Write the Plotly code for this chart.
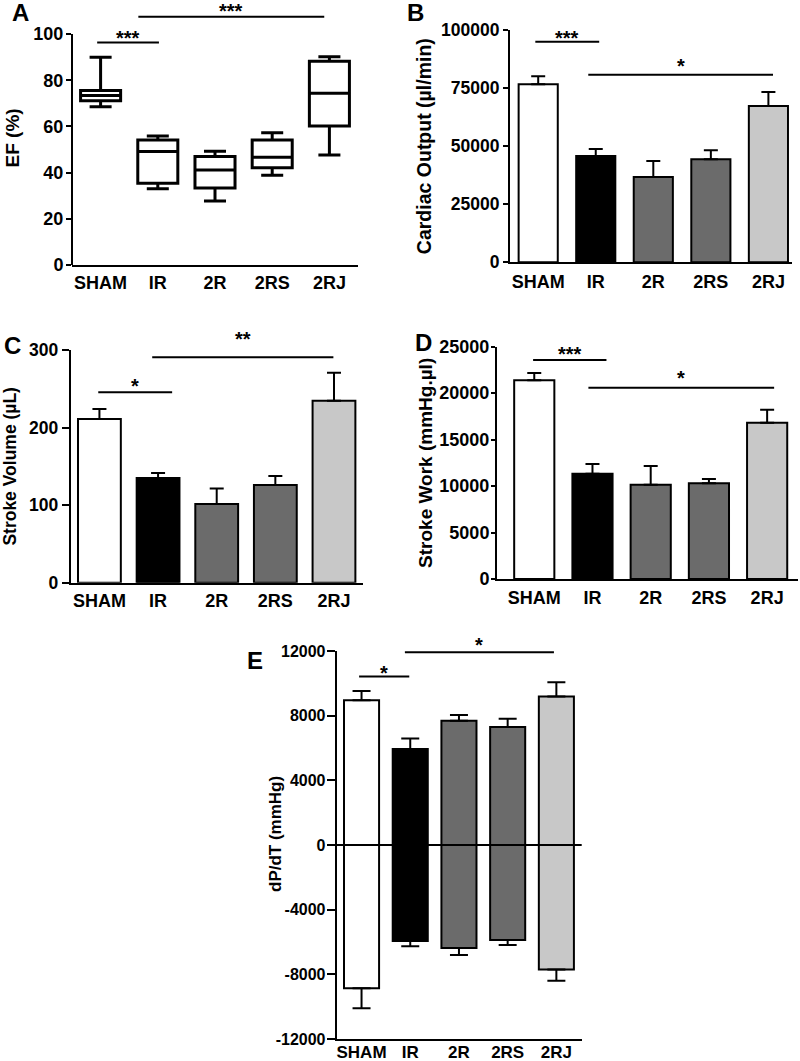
import plotly.graph_objects as go

# ---------------- data ----------------
groups = ["SHAM", "IR", "2R", "2RS", "2RJ"]
bar_colors = ["#ffffff", "#000000", "#6b6b6b", "#6b6b6b", "#c8c8c8"]

# Panel A: EF (%) box plots (min, q1, median, q3, max)
ef_min = [68.5, 33.0, 27.7, 38.8, 47.6]
ef_q1 = [71.1, 35.4, 33.3, 42.1, 60.2]
ef_med = [73.4, 49.1, 41.1, 46.6, 74.3]
ef_q3 = [75.5, 54.1, 47.0, 54.1, 88.2]
ef_max = [89.9, 55.8, 49.2, 57.3, 90.2]

# Panel B: Cardiac output (µl/min)
co_mean = [76600, 45770, 36730, 44330, 67290]
co_sem = [3460, 3010, 6880, 3880, 6020]

# Panel C: Stroke volume (µL)
sv_mean = [211, 135, 101.4, 126, 234.6]
sv_sem = [13, 6.4, 20.2, 11.5, 36.1]

# Panel D: Stroke work (mmHg.µl)
sw_mean = [21377, 11334, 10150, 10294, 16822]
sw_sem = [790, 1040, 2009, 466, 1399]

# Panel E: dP/dT (mmHg)
dp_max = [8958, 5937, 7678, 7300, 9189]
dp_max_sem = [566, 650, 357, 504, 881]
dp_min = [-8858, -5939, -6365, -5878, -7703]
dp_min_sem = [1237, 325, 446, 304, 689]

# tick values
ticks_A = [0, 20, 40, 60, 80, 100]
ticks_B = [0, 25000, 50000, 75000, 100000]
ticks_C = [0, 100, 200, 300]
ticks_D = [0, 5000, 10000, 15000, 20000, 25000]
ticks_E = [-12000, -8000, -4000, 0, 4000, 8000, 12000]

# significance brackets: (x start, x end, bracket level, label level, label)
sig_A = [(-0.06, 1.02, 96.3, 101, "***"), (0.66, 3.91, 107.5, 112.6, "***")]
sig_B = [(-0.05, 1.06, 94980, 99270, "***"), (0.87, 4.08, 80770, 87090, "*")]
sig_C = [(-0.02, 1.24, 245.4, 261.3, "*"), (0.90, 3.99, 290.5, 321.9, "**")]
sig_D = [(-0.02, 1.24, 23565, 24860, "***"), (0.93, 4.12, 20588, 22310, "*")]
sig_E = [(-0.05, 0.98, 10427, 11029, "*"), (0.89, 3.95, 11916, 12724, "*")]

# ---------------- figure ----------------
W, H = 800, 1061
FONT = "Liberation Sans, Arial, sans-serif"
xs = list(range(len(groups)))

rng_A = [0, 110]
rng_B = [0, 100000]
rng_C = [0, 300]
rng_D = [0, 25000]
rng_E = [-12000, 12000]

fig = go.Figure()


def px_x(p):
    return p / W


def px_y(p):
    return 1 - p / H


# Panel A boxes
for i, g in enumerate(groups):
    fig.add_trace(go.Box(
        x=[xs[i]], q1=[ef_q1[i]], median=[ef_med[i]], q3=[ef_q3[i]],
        lowerfence=[ef_min[i]], upperfence=[ef_max[i]],
        fillcolor="white", line=dict(color="black", width=3),
        whiskerwidth=0.55, width=0.7, boxpoints=False,
        xaxis="x", yaxis="y", showlegend=False, hoverinfo="skip"))


def add_bars(means, sems, xa, ya, width, capw):
    fig.add_trace(go.Bar(
        x=xs, y=means, width=width, xaxis=xa, yaxis=ya,
        marker=dict(color=bar_colors, line=dict(color="black", width=2)),
        error_y=dict(type="data", symmetric=False, array=sems,
                     arrayminus=[0] * len(sems), color="black",
                     thickness=2, width=capw),
        showlegend=False))


add_bars(co_mean, co_sem, "x2", "y2", 0.68, 7)
add_bars(sv_mean, sv_sem, "x3", "y3", 0.73, 7)
add_bars(sw_mean, sw_sem, "x4", "y4", 0.69, 7)

# Panel E
fig.add_trace(go.Bar(
    x=xs, y=dp_max, width=0.72, xaxis="x5", yaxis="y5",
    marker=dict(color=bar_colors, line=dict(color="black", width=2)),
    error_y=dict(type="data", symmetric=False, array=dp_max_sem,
                 arrayminus=[0] * 5, color="black", thickness=2, width=9),
    showlegend=False))
fig.add_trace(go.Bar(
    x=xs, y=dp_min, width=0.72, xaxis="x5", yaxis="y5",
    marker=dict(color=bar_colors, line=dict(color="black", width=2)),
    error_y=dict(type="data", symmetric=False, array=[0] * 5,
                 arrayminus=dp_min_sem, color="black", thickness=2, width=9),
    showlegend=False))


def f(size):
    return dict(family=FONT, size=size, color="black", weight="bold")


def xaxis(dom, rng, anchor, fs, tl, so=0):
    return dict(domain=dom, range=rng, tickvals=xs, ticktext=groups, anchor=anchor,
                showline=True, linecolor="black", linewidth=2,
                ticks="outside", ticklen=tl, tickcolor="rgba(0,0,0,0)",
                ticklabelstandoff=so,
                showgrid=False, zeroline=False, tickfont=f(fs), automargin=False,
                fixedrange=True)


def yaxis(dom, rng, tv, title, anchor, fs, tfs, standoff, tl, so=0, showline=True):
    return dict(domain=dom, range=rng, tickvals=tv, ticktext=[str(v) for v in tv],
                anchor=anchor, showline=showline, linecolor="black", linewidth=2,
                ticks="outside", ticklen=tl, tickwidth=2, tickcolor="black",
                ticklabelstandoff=so,
                showgrid=False, zeroline=False, tickfont=f(fs), automargin=False,
                title=dict(text=title, font=f(tfs), standoff=standoff), fixedrange=True)


fig.update_layout(
    template="none",
    width=W, height=H, margin=dict(l=0, r=0, t=0, b=0, autoexpand=False),
    paper_bgcolor="white", plot_bgcolor="white", barmode="overlay",
    font=f(16), showlegend=False,
    xaxis=xaxis([px_x(72), px_x(358)], [-0.5, 4.5], "y", 18, 0),
    yaxis=yaxis([px_y(265), px_y(265 - 110 * 2.31)], rng_A, ticks_A, "EF (%)", "x",
                18, 19, 8, 5, -1, showline=False),
    xaxis2=xaxis([px_x(510), px_x(792)], [-0.49, 4.41], "y2", 18, 2),
    yaxis2=yaxis([px_y(262.3), px_y(30)], rng_B, ticks_B, "Cardiac Output (µl/min)", "x2",
                 17.5, 19.5, 4, 5),
    xaxis3=xaxis([px_x(70.7), px_x(363.3)], [-0.49, 4.5], "y3", 18, 1),
    yaxis3=yaxis([px_y(582.7), px_y(350)], rng_C, ticks_C, "Stroke Volume (µL)", "x3",
                 17.5, 17.5, 8, 7),
    xaxis4=xaxis([px_x(497), px_x(798)], [-0.64, 4.53], "y4", 18, 1),
    yaxis4=yaxis([px_y(579), px_y(346.7)], rng_D, ticks_D, "Stroke Work (mmHg.µl)", "x4",
                 18, 19, 2, 4, -2),
    xaxis5=xaxis([px_x(336.7), px_x(581.7)], [-0.51, 4.52], "y5", 17, 0, -3),
    yaxis5=yaxis([px_y(1039), px_y(651)], rng_E, ticks_E, "", "x5",
                 16, 15, 8, 8, -2),
)

# Panel E y title
fig.add_annotation(x=px_x(275), y=px_y(834), xref="paper", yref="paper",
                   text="dP/dT (mmHg)", textangle=-90, showarrow=False,
                   xanchor="center", yanchor="middle", font=f(17))

# Panel A y-axis line only from 0 to 100
fig.add_shape(type="line", xref="x domain", yref="y domain", x0=0, x1=0,
              y0=0, y1=100 / 110, line=dict(color="black", width=2))

# Panel E zero line above bars
fig.add_shape(type="line", xref="x5 domain", yref="y5", x0=0, x1=1, y0=0, y1=0,
              line=dict(color="black", width=2), layer="above")

# significance brackets
for sig, xa, ya, rng in [(sig_A, "x", "y", rng_A), (sig_B, "x2", "y2", rng_B),
                         (sig_C, "x3", "y3", rng_C), (sig_D, "x4", "y4", rng_D),
                         (sig_E, "x5", "y5", rng_E)]:
    for x0, x1, yv, ly, lab in sig:
        fig.add_shape(type="line", xref=xa, yref=ya, x0=x0, x1=x1, y0=yv, y1=yv,
                      line=dict(color="black", width=2))
        # label position via the axis domain so labels above the range stay visible
        fig.add_annotation(x=(x0 + x1) / 2, y=(ly - rng[0]) / (rng[1] - rng[0]),
                           xref=xa, yref=ya + " domain", text=lab,
                           showarrow=False, yanchor="middle", yshift=-6,
                           font=f(20))

# panel letters
for lab, x, y in [("A", 20, 13), ("B", 415, 13), ("C", 12, 345), ("D", 423, 343), ("E", 255, 660)]:
    fig.add_annotation(x=px_x(x), y=px_y(y), xref="paper", yref="paper", text=lab,
                       showarrow=False, xanchor="center", yanchor="middle",
                       font=f(24))

fig.write_html("out.html", config={"displayModeBar": False},
               post_script="document.body.style.margin='0';document.body.style.padding='0';")
